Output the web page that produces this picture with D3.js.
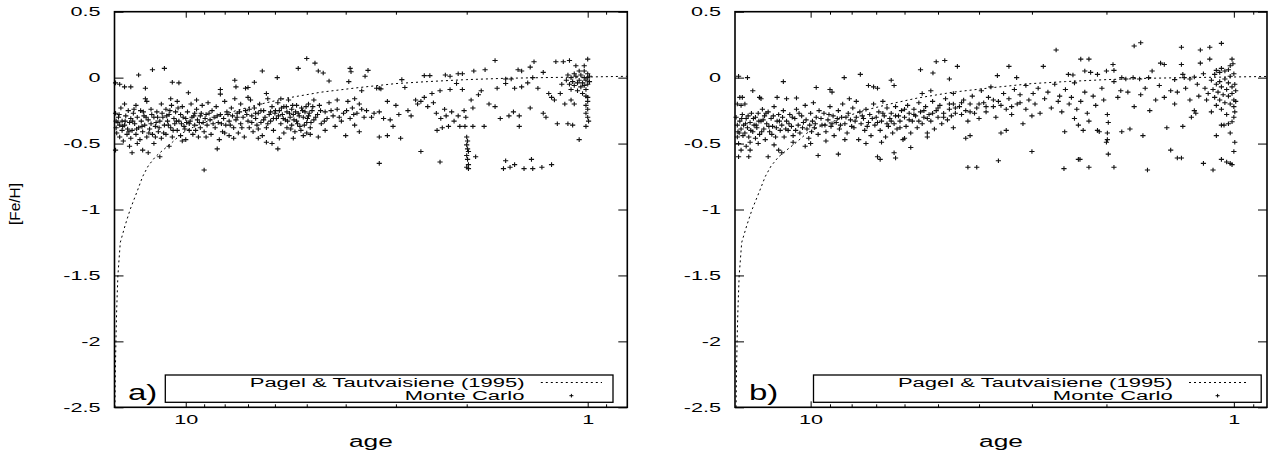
<!DOCTYPE html>
<html><head><meta charset="utf-8">
<script src="https://cdn.jsdelivr.net/npm/d3@7"></script>
<style>body{margin:0;background:#fff}svg{display:block}</style>
</head><body><svg id="c" width="1280" height="453"></svg>
<script>
const yTicks = [0.5, 0, -0.5, -1, -1.5, -2, -2.5];
const xMajor = [10, 1];
const xMinor = [9, 8, 7, 6, 5, 4, 3, 2, 0.9];
const legendLabels = ["Pagel & Tautvaisiene (1995)", "Monte Carlo"];
const panelLabels = ["a)", "b)"];
const xTitle = "age", yTitle = "[Fe/H]";

// Pagel & Tautvaisiene (1995) age-metallicity relation [age, [Fe/H]]
const pagelCurve = [[15.0,-2.5],[14.97,-2.25],[14.92,-2.0],[14.85,-1.75],[14.75,-1.5],[14.55,-1.25],[14.15,-1.12],[13.75,-1.0],[13.2,-0.86],[12.8,-0.75],[12.4,-0.67],[11.9,-0.6],[11.4,-0.55],[10.8,-0.49],[10.2,-0.42],[9.5,-0.37],[8.5,-0.31],[7.5,-0.25],[6.5,-0.2],[5.6,-0.155],[4.6,-0.11],[3.7,-0.075],[3.0,-0.045],[2.5,-0.03],[2.0,-0.015],[1.6,-0.005],[1.3,0.0],[1.0,0.005],[0.8,0.01],[0.78,0.01]];

// Monte Carlo sample, panel a) [age, [Fe/H]]
const monteCarloA = [
[14.95,-0.04],[14.6,-0.05],[14.2,-0.07],[13.7,-0.07],[14.95,-0.27],[14.9,-0.33],[14.9,-0.38],[14.85,-0.42],[14.95,-0.55],[14.7,-0.30],[14.6,-0.36],[14.6,-0.45],[14.5,-0.23],[14.4,-0.33],[14.4,-0.40],[14.2,-0.20],[14.2,-0.36],[14.1,-0.29],[14.0,-0.43],[13.95,-0.39],[13.9,-0.25],[13.8,-0.34],[13.8,-0.52],[13.7,-0.31],[13.7,-0.46],[13.6,-0.40],[13.6,-0.57],[13.5,-0.27],
[13.1,0.02],[12.6,-0.08],[12.1,0.06],[13.4,-0.35],[13.3,-0.21],[13.3,-0.43],[13.2,-0.30],[13.1,-0.38],[13.0,-0.47],[12.95,-0.25],[12.9,-0.33],[12.8,-0.55],[12.8,-0.41],[12.7,-0.29],[12.65,-0.36],[12.5,-0.18],[12.5,-0.45],[12.4,-0.32],[12.4,-0.57],[12.3,-0.39],[12.2,-0.24],[12.2,-0.35],[12.1,-0.43],[12.0,-0.30],[12.0,-0.50],
[11.3,0.07],[10.8,-0.035],[10.4,-0.04],[11.6,-0.6],[11.9,-0.37],[11.8,-0.26],[11.7,-0.41],[11.6,-0.33],[11.5,-0.20],[11.5,-0.46],[11.4,-0.30],[11.3,-0.36],[11.2,-0.24],[11.2,-0.43],[11.1,-0.33],[11.0,-0.52],[11.0,-0.28],[10.9,-0.38],[10.85,-0.21],[10.8,-0.45],[10.7,-0.31],[10.65,-0.35],[10.6,-0.26],[10.5,-0.40],[10.5,-0.18],
[9.85,-0.115],[9.0,-0.70],[10.4,-0.33],[10.3,-0.28],[10.3,-0.44],[10.2,-0.22],[10.1,-0.37],[10.0,-0.31],[10.0,-0.47],[9.9,-0.26],[9.8,-0.35],[9.8,-0.40],[9.7,-0.20],[9.65,-0.30],[9.6,-0.43],[9.5,-0.27],[9.5,-0.36],[9.4,-0.24],[9.35,-0.32],[9.3,-0.45],[9.2,-0.29],[9.2,-0.38],[9.1,-0.21],[9.05,-0.34],[9.0,-0.41],
[8.2,-0.09],[8.2,-0.125],[7.55,-0.02],[7.5,-0.07],[8.35,-0.54],[8.25,-0.47],[8.9,-0.28],[8.85,-0.36],[8.8,-0.19],[8.7,-0.32],[8.65,-0.43],[8.6,-0.25],[8.5,-0.30],[8.45,-0.38],[8.4,-0.22],[8.3,-0.34],[8.2,-0.28],[8.1,-0.41],[8.05,-0.31],[8.0,-0.18],[7.95,-0.36],[7.9,-0.26],[7.8,-0.33],[7.8,-0.44],[7.7,-0.23],[7.65,-0.29],[7.6,-0.38],[7.55,-0.16],[7.5,-0.32],
[7.1,-0.08],[7.0,-0.075],[6.75,-0.035],[6.45,0.05],[6.3,-0.12],[6.3,-0.49],[6.1,-0.5],[7.45,-0.27],[7.4,-0.42],[7.3,-0.20],[7.3,-0.35],[7.2,-0.30],[7.15,-0.45],[7.1,-0.25],[7.0,-0.33],[6.95,-0.38],[6.9,-0.17],[6.85,-0.29],[6.8,-0.41],[6.75,-0.23],[6.7,-0.31],[6.65,-0.36],[6.6,-0.27],[6.55,-0.20],[6.5,-0.34],[6.45,-0.44],[6.4,-0.25],[6.35,-0.30],[6.3,-0.38],[6.25,-0.16],[6.2,-0.28],[6.15,-0.33],[6.1,-0.22],[6.05,-0.40],[6.0,-0.27],
[5.92,0.0],[5.25,0.07],[5.0,0.145],[5.9,-0.54],[5.85,-0.46],[5.95,-0.31],[5.9,-0.19],[5.85,-0.25],[5.8,-0.35],[5.75,-0.28],[5.7,-0.42],[5.7,-0.22],[5.65,-0.32],[5.6,-0.26],[5.6,-0.38],[5.55,-0.17],[5.5,-0.30],[5.45,-0.24],[5.45,-0.36],[5.4,-0.28],[5.35,-0.41],[5.3,-0.21],[5.3,-0.33],[5.25,-0.27],[5.2,-0.37],[5.15,-0.23],[5.1,-0.30],[5.1,-0.44],[5.05,-0.26],[5.0,-0.34],[4.95,-0.20],[4.95,-0.29],[4.9,-0.43],[4.9,-0.38],[4.85,-0.25],[4.8,-0.32],[4.8,-0.17],
[4.77,0.11],[4.68,0.05],[4.55,0.035],[4.4,-0.025],[3.9,0.07],[3.88,0.045],[3.93,-0.03],[3.65,-0.10],[3.52,0.055],[3.58,0.01],[4.68,-0.45],[4.0,-0.44],[3.7,-0.41],[4.7,-0.28],[4.65,-0.21],[4.6,-0.35],[4.5,-0.26],[4.45,-0.31],[4.4,-0.19],[4.3,-0.29],[4.25,-0.37],[4.2,-0.24],[4.1,-0.33],[4.05,-0.27],[3.95,-0.18],[3.9,-0.31],[3.85,-0.23],[3.8,-0.36],[3.75,-0.27],[3.7,-0.20],[3.6,-0.30],[3.55,-0.25],
[3.35,-0.08],[3.3,-0.08],[3.27,-0.085],[2.9,-0.015],[2.85,-0.075],[3.3,-0.65],[2.6,-0.56],[3.3,-0.45],[3.15,-0.44],[2.92,-0.46],[3.4,-0.27],[3.3,-0.26],[3.22,-0.31],[3.15,-0.18],[3.1,-0.32],[3.05,-0.37],[3.0,-0.21],[2.95,-0.28],[2.8,-0.25],[2.75,-0.29],[2.68,-0.17],[2.65,-0.20],
[2.55,0.015],[2.47,0.015],[2.26,0.02],[2.2,0.01],[2.1,0.03],[2.05,0.03],[1.92,0.05],[2.33,-0.64],[2.6,-0.18],[2.55,-0.15],[2.5,-0.22],[2.44,-0.12],[2.42,-0.19],[2.38,-0.27],[2.37,-0.40],[2.33,-0.10],[2.32,-0.31],[2.3,-0.38],[2.27,-0.24],[2.25,-0.29],[2.22,-0.37],[2.2,-0.09],[2.18,-0.26],[2.15,-0.33],[2.12,-0.045],[2.1,-0.29],[2.08,-0.37],[2.05,-0.09],[2.03,-0.25],[2.02,-0.37],[2.01,-0.30],
[2.0,-0.45],[1.99,-0.48],[2.0,-0.51],[1.99,-0.54],[1.98,-0.56],[2.0,-0.59],[1.99,-0.62],[1.98,-0.66],[2.0,-0.68],[1.98,-0.69],[1.9,-0.60],[1.93,-0.37],[1.93,-0.23],[1.95,-0.17],
[1.8,0.06],[1.49,0.06],[1.46,0.05],[1.39,0.08],[1.29,0.04],[1.36,0.12],[1.7,0.13],[1.87,-0.13],[1.84,-0.10],[1.81,-0.37],[1.76,-0.20],[1.7,-0.22],[1.68,-0.08],[1.65,-0.31],[1.6,-0.045],[1.6,-0.01],[1.57,-0.29],[1.55,-0.01],[1.53,-0.26],[1.52,-0.08],[1.48,-0.29],[1.48,-0.37],[1.46,-0.07],[1.41,-0.04],[1.39,-0.23],[1.37,0.0],[1.33,-0.08],[1.29,-0.27],[1.27,-0.30],[1.25,-0.12],[1.23,-0.15],[1.21,-0.17],[1.19,-0.35],[1.17,-0.12],[1.16,-0.05],
[1.62,-0.69],[1.6,-0.63],[1.56,-0.68],[1.52,-0.66],[1.44,-0.69],[1.38,-0.62],[1.37,-0.69],[1.3,-0.68],[1.23,-0.66],
[1.2,0.12],[1.15,0.12],[1.11,0.13],[1.0,0.14],[1.07,0.09],[1.02,0.09],[1.14,-0.20],[1.13,-0.02],[1.12,0.02],[1.11,-0.05],[1.1,0.0],[1.1,-0.09],[1.09,-0.03],[1.08,0.03],[1.08,-0.06],[1.07,0.01],[1.06,-0.04],[1.06,-0.10],[1.05,0.05],[1.05,-0.02],[1.05,-0.47],[1.04,-0.07],[1.04,0.02],[1.03,-0.04],[1.03,-0.12],[1.02,0.0],[1.02,-0.06],[1.02,0.05],[1.01,-0.02],[1.01,-0.09],[1.0,0.0],[1.0,-0.05],[1.0,0.03],[0.99,-0.03],[0.99,0.01],[1.08,-0.20],[1.1,-0.17],[1.12,-0.35],[1.09,-0.36],
[1.01,-0.14],[1.0,-0.18],[1.01,-0.21],[1.0,-0.24],[1.01,-0.27],[1.0,-0.30],[0.995,-0.33],[1.01,-0.37],[1.0,-0.15],
[14.75,-0.34],[14.65,-0.28],[14.35,-0.37],[14.15,-0.33],[13.85,-0.41],[13.55,-0.33],[13.45,-0.24],[13.25,-0.39],[12.85,-0.37],[12.75,-0.26],[12.55,-0.30],[12.35,-0.42],[12.15,-0.28],[11.85,-0.34],[11.75,-0.30],[11.65,-0.38],[11.45,-0.27],[11.35,-0.42],[11.15,-0.29],[11.05,-0.36],[10.95,-0.25],[10.75,-0.40],[10.55,-0.33],[10.45,-0.23],[10.25,-0.35],[10.15,-0.30],[10.05,-0.39],[9.95,-0.34],[9.75,-0.33],[9.55,-0.29],[9.45,-0.40],[9.25,-0.34],[9.15,-0.27],[8.95,-0.31],[8.75,-0.27],[8.55,-0.35],[8.35,-0.29],[8.15,-0.35],[7.85,-0.28],[7.75,-0.36],[7.45,-0.30],[7.35,-0.26],[7.25,-0.38],[7.05,-0.28],[6.95,-0.24],[6.85,-0.34],[6.7,-0.27],[6.6,-0.39],[6.5,-0.25],[6.4,-0.32],[6.25,-0.35],[6.15,-0.26],[6.05,-0.31],[5.98,-0.25],[5.88,-0.29],[5.78,-0.23],[5.72,-0.31],[5.62,-0.22],[5.58,-0.33],[5.52,-0.27],[5.48,-0.39],[5.42,-0.21],[5.38,-0.32],[5.33,-0.26],[5.27,-0.35],[5.22,-0.29],[5.17,-0.40],[5.12,-0.25],[5.07,-0.36],[5.02,-0.22],[4.98,-0.31],[4.93,-0.27],[4.88,-0.34],[4.83,-0.22],[4.75,-0.30],[4.62,-0.25],[4.52,-0.33],[4.35,-0.25],[4.15,-0.30],[3.98,-0.25],[3.82,-0.28],[3.65,-0.24],[3.45,-0.30],
[14.3,-0.48],[13.2,-0.50],[12.6,-0.16],[11.9,-0.45],[10.9,-0.16],[10.2,-0.48],[9.4,-0.17],[8.9,-0.45],[8.0,-0.42],[7.6,-0.46],[7.0,-0.15],[6.6,-0.46],[5.8,-0.16],[5.4,-0.46],[5.0,-0.42],[4.5,-0.40],[4.2,-0.17],[3.8,-0.16]
];

// Monte Carlo sample, panel b) [age, [Fe/H]]
const monteCarloB = [
[14.8,0.01],[14.1,0.0],[14.7,-0.15],[14.5,-0.15],[14.9,-0.20],[14.6,-0.21],[14.3,-0.20],[13.7,-0.10],[15.0,-0.30],[14.9,-0.36],[14.85,-0.41],[14.9,-0.45],[14.8,-0.50],[14.6,-0.55],[14.8,-0.60],[14.0,-0.60],[13.9,-0.55],[13.9,-0.49],[14.7,-0.33],[14.6,-0.39],[14.5,-0.28],[14.4,-0.36],[14.3,-0.42],[14.2,-0.31],[14.1,-0.38],[14.0,-0.45],[13.9,-0.34],[13.8,-0.27],[13.7,-0.41],[13.6,-0.36],[13.5,-0.30],[13.5,-0.46],
[13.2,-0.15],[13.1,-0.16],[12.0,-0.15],[11.6,-0.03],[12.6,-0.60],[11.9,-0.55],[11.7,-0.57],[13.4,-0.38],[13.3,-0.27],[13.2,-0.43],[13.1,-0.33],[13.0,-0.24],[12.9,-0.39],[12.85,-0.29],[12.8,-0.47],[12.7,-0.35],[12.6,-0.26],[12.5,-0.41],[12.4,-0.31],[12.3,-0.37],[12.2,-0.22],[12.1,-0.45],[12.0,-0.33],[11.9,-0.28],[11.8,-0.40],[11.7,-0.36],[11.6,-0.25],[11.55,-0.45],
[11.4,-0.16],[10.8,-0.155],[9.7,-0.075],[9.6,-0.59],[10.3,-0.52],[11.4,-0.33],[11.3,-0.40],[11.2,-0.28],[11.1,-0.37],[11.0,-0.44],[10.9,-0.31],[10.8,-0.24],[10.7,-0.36],[10.6,-0.42],[10.5,-0.29],[10.4,-0.34],[10.3,-0.21],[10.2,-0.39],[10.1,-0.46],[10.0,-0.27],[9.9,-0.33],[9.85,-0.19],[9.8,-0.38],[9.7,-0.30],[9.6,-0.43],[9.55,-0.25],
[9.0,-0.09],[8.9,-0.11],[8.33,0.0],[8.6,-0.58],[7.8,-0.18],[8.1,-0.16],[9.4,-0.36],[9.3,-0.27],[9.2,-0.41],[9.1,-0.32],[9.0,-0.22],[8.95,-0.37],[8.85,-0.29],[8.8,-0.44],[8.7,-0.34],[8.6,-0.25],[8.55,-0.39],[8.45,-0.30],[8.4,-0.20],[8.3,-0.35],[8.2,-0.42],[8.15,-0.27],[8.05,-0.32],[7.95,-0.23],[7.9,-0.38],[7.8,-0.30],[7.7,-0.47],[7.65,-0.26],[7.6,-0.35],
[7.63,0.025],[7.3,-0.06],[7.1,-0.07],[6.95,-0.08],[6.45,-0.02],[6.35,-0.06],[6.95,-0.60],[6.85,-0.62],[6.35,-0.57],[6.3,-0.61],[7.5,-0.31],[7.45,-0.40],[7.4,-0.24],[7.3,-0.34],[7.25,-0.28],[7.2,-0.44],[7.1,-0.20],[7.05,-0.36],[7.0,-0.30],[6.9,-0.26],[6.85,-0.40],[6.8,-0.33],[6.75,-0.18],[6.7,-0.29],[6.65,-0.45],[6.6,-0.23],[6.55,-0.37],[6.5,-0.31],[6.45,-0.27],[6.4,-0.42],[6.35,-0.35],[6.3,-0.22],[6.25,-0.39],[6.2,-0.29],[6.15,-0.33],[6.1,-0.25],[6.05,-0.47],
[5.5,0.06],[5.14,0.035],[5.05,0.12],[4.82,0.13],[4.7,-0.01],[5.8,-0.53],[5.45,-0.12],[5.2,-0.10],[4.6,-0.12],[6.0,-0.30],[5.95,-0.37],[5.9,-0.21],[5.85,-0.27],[5.8,-0.42],[5.75,-0.33],[5.7,-0.24],[5.65,-0.29],[5.6,-0.38],[5.55,-0.19],[5.5,-0.26],[5.45,-0.35],[5.4,-0.30],[5.35,-0.22],[5.3,-0.45],[5.25,-0.28],[5.2,-0.33],[5.15,-0.18],[5.1,-0.39],[5.05,-0.25],[5.0,-0.30],[4.95,-0.21],[4.9,-0.35],[4.85,-0.27],[4.8,-0.16],[4.75,-0.32],[4.7,-0.24],[4.65,-0.29],[4.6,-0.20],[4.55,-0.27],
[4.5,0.085],[3.62,0.015],[3.4,0.085],[3.26,0.0],[4.25,-0.68],[4.05,-0.68],[3.6,-0.63],[3.0,-0.56],[4.3,-0.46],[4.2,-0.44],[3.55,-0.42],[3.45,-0.40],[4.45,-0.22],[4.4,-0.28],[4.35,-0.17],[4.3,-0.25],[4.25,-0.33],[4.2,-0.20],[4.15,-0.14],[4.1,-0.27],[4.05,-0.23],[4.0,-0.31],[3.95,-0.10],[3.9,-0.19],[3.85,-0.26],[3.8,-0.15],[3.75,-0.07],[3.7,-0.22],[3.65,-0.30],[3.6,-0.18],[3.5,-0.12],[3.45,-0.24],[3.4,-0.16],[3.35,-0.28],[3.3,-0.09],[3.25,-0.20],[3.2,-0.13],[3.15,-0.35],[3.1,-0.06],[3.1,-0.24],[3.05,-0.17],[3.0,-0.29],
[2.82,0.085],[2.63,0.21],[2.46,0.025],[2.4,0.02],[2.3,0.14],[2.2,0.14],[2.25,0.05],[2.18,0.04],[2.1,0.025],[2.0,0.05],[2.52,-0.69],[2.33,-0.62],[2.31,-0.62],[2.2,-0.68],[2.51,-0.41],[2.27,-0.40],[2.38,-0.31],[2.33,-0.36],[2.1,-0.40],[2.08,-0.41],[2.2,-0.33],[2.0,-0.49],[1.99,-0.47],[1.99,-0.42],[1.98,-0.34],[1.99,-0.28],
[2.98,-0.12],[2.95,-0.20],[2.9,-0.08],[2.87,-0.27],[2.8,-0.16],[2.75,-0.11],[2.7,-0.23],[2.65,-0.05],[2.6,-0.18],[2.58,-0.14],[2.55,-0.26],[2.5,-0.09],[2.45,-0.20],[2.42,-0.15],[2.38,-0.04],[2.35,-0.24],[2.3,-0.18],[2.25,-0.11],[2.22,-0.27],[2.15,-0.14],[2.12,-0.21],[2.05,-0.08],[2.03,-0.17],
[1.93,0.10],[1.92,0.055],[1.92,-0.03],[1.84,0.0],[1.8,-0.01],[1.73,0.0],[1.67,-0.01],[1.72,0.24],[1.66,0.265],[1.56,0.05],[1.49,0.11],[1.46,0.10],[1.38,-0.015],[1.33,0.23],[1.33,0.10],[1.32,0.025],[1.31,0.0],[1.27,-0.01],[1.24,0.005],[1.2,0.11],[1.2,0.21],[1.59,0.0],
[1.92,-0.68],[1.98,-0.58],[1.6,-0.70],[1.41,-0.55],[1.36,-0.61],[1.33,-0.61],[1.64,-0.44],[1.84,-0.41],[1.76,-0.39],[1.44,-0.38],[1.32,-0.37],
[1.88,-0.15],[1.85,-0.10],[1.78,-0.11],[1.72,-0.22],[1.66,-0.13],[1.62,-0.08],[1.58,-0.25],[1.53,-0.17],[1.5,-0.06],[1.46,-0.15],[1.41,-0.10],[1.38,-0.20],[1.36,-0.11],[1.3,-0.08],[1.27,-0.17],[1.24,-0.25],[1.23,-0.27],[1.26,-0.30],[1.22,-0.05],[1.21,-0.14],
[1.14,0.23],[1.07,0.26],[1.18,0.03],[1.14,0.14],[1.11,0.025],[1.1,0.055],[1.08,0.04],[1.07,0.07],[1.05,0.05],[1.03,0.06],[1.02,0.09],[1.01,0.14],[1.005,0.105],
[1.18,-0.65],[1.12,-0.70],[1.07,-0.62],[1.04,-0.64],[1.02,-0.65],[1.01,-0.66],[1.0,-0.56],[0.995,-0.49],[1.02,-0.42],[1.07,-0.36],[1.055,-0.36],[1.03,-0.35],[1.01,-0.335],[1.1,-0.44],
[1.17,-0.08],[1.16,-0.17],[1.15,-0.12],[1.13,-0.02],[1.13,-0.26],[1.12,-0.09],[1.11,-0.15],[1.1,-0.05],[1.1,-0.21],[1.09,-0.11],[1.08,-0.03],[1.08,-0.17],[1.07,-0.07],[1.07,-0.24],[1.06,-0.13],[1.05,-0.01],[1.05,-0.19],[1.04,-0.09],[1.04,-0.28],[1.03,-0.04],[1.03,-0.14],[1.02,-0.20],[1.02,0.01],[1.01,-0.07],[1.01,-0.12],[1.0,0.03],[1.0,-0.17],[1.0,-0.22],[0.995,-0.05],[0.995,-0.26],[0.99,-0.10],[0.99,-0.18],[1.0,-0.30],
[14.75,-0.42],[14.55,-0.31],[14.45,-0.44],[14.25,-0.35],[14.05,-0.29],[13.85,-0.40],[13.65,-0.31],[13.45,-0.36],[13.25,-0.33],[13.05,-0.41],[12.95,-0.32],[12.75,-0.27],[12.55,-0.37],[12.35,-0.43],[12.25,-0.29],[12.05,-0.38],[11.85,-0.33],[11.65,-0.30],[11.45,-0.39],[11.25,-0.35],[11.05,-0.30],[10.85,-0.40],[10.65,-0.27],[10.45,-0.38],[10.25,-0.32],[10.05,-0.36],[9.95,-0.41],[9.75,-0.35],[9.45,-0.31],[9.25,-0.36],[9.05,-0.28],[8.9,-0.35],[8.65,-0.31],[8.5,-0.36],[8.25,-0.30],[8.0,-0.37],[7.85,-0.33],[7.55,-0.29],[7.35,-0.37],[7.15,-0.31],[6.95,-0.34],[6.75,-0.27],[6.6,-0.35],[6.45,-0.33],[6.3,-0.29],[6.15,-0.38],[6.0,-0.24],[5.85,-0.32],[5.7,-0.28],[5.55,-0.33],[5.4,-0.25],[5.3,-0.31],[5.15,-0.27],[5.0,-0.23],[4.85,-0.30],[4.7,-0.20],[4.55,-0.23],[4.4,-0.19],[4.2,-0.26],[4.0,-0.20],[3.85,-0.22],[3.7,-0.17],[3.55,-0.21],[3.35,-0.22],[3.2,-0.19],
[14.2,-0.52],[13.3,-0.50],[12.2,-0.51],[11.0,-0.49],[10.0,-0.50],[9.2,-0.48],[8.3,-0.47],[7.4,-0.50],[6.8,-0.49],[6.0,-0.46],[5.3,-0.42],[4.6,-0.38]
];

// ---------- layout ----------
const FONT = "'Liberation Sans', Arial, Helvetica, sans-serif";
const yTop = 11.7, yBot = 407.3;
const panels = [
  {left:114.5, right:627.3, xDomain:[15.04, 0.797], points:monteCarloA, tag:panelLabels[0], tagX:128,
   legX0:165.3, legX1:613, legTextR:524.5, legS0:540.8, legS1:602, legPlus:571.4},
  {left:735, right:1267, xDomain:[15.09, 0.835], points:monteCarloB, tag:panelLabels[1], tagX:749,
   legX0:813.5, legX1:1261.2, legTextR:1172.7, legS0:1189, legS1:1248, legPlus:1217.6}
];
const svg = d3.select("#c");
svg.append("rect").attr("width",1280).attr("height",453).attr("fill","#fff");
const plusPath = "M-2.6,0H2.6M0,-2.3V2.3";

panels.forEach((p, i) => {
  const x = d3.scaleLog().domain(p.xDomain).range([p.left, p.right]);
  const y = d3.scaleLinear().domain([-2.5, 0.5]).range([yBot, yTop]);
  const g = svg.append("g");
  const minorVals = xMinor.filter(v => v < p.xDomain[0] && v > p.xDomain[1]);

  svg.append("clipPath").attr("id", "clip" + i).append("rect")
    .attr("x", p.left).attr("y", yTop).attr("width", p.right - p.left).attr("height", yBot - yTop);

  const styleAxis = sel => { sel.attr("color", "#000").attr("font-family", FONT); sel.select(".domain").remove(); sel.selectAll("line").attr("stroke-width", 1); };
  const gl = g.append("g").attr("transform", `translate(${p.left},0)`)
    .call(d3.axisLeft(y).tickValues(yTicks).tickSize(-9).tickPadding(0).tickFormat(d => String(d)))
    .call(styleAxis).attr("font-size", 12);
  gl.selectAll("text").attr("x", 0).attr("dy", "0.32em").attr("text-anchor", "end")
    .attr("transform", "translate(-14,0) scale(1.8,1)");
  g.append("g").attr("transform", `translate(${p.right},0)`)
    .call(d3.axisRight(y).tickValues(yTicks).tickSize(-9).tickFormat(""))
    .call(styleAxis);
  const gb = g.append("g").attr("transform", `translate(0,${yBot})`)
    .call(d3.axisBottom(x).tickValues(xMajor).tickSize(-6).tickFormat(d => String(d)))
    .call(styleAxis).attr("font-size", 12);
  gb.selectAll("text").attr("y", 16.7).attr("dy", 0).attr("transform", "scale(1.8,1)");
  g.append("g").attr("transform", `translate(0,${yBot})`)
    .call(d3.axisBottom(x).tickValues(minorVals).tickSize(-3).tickFormat(""))
    .call(styleAxis);
  g.append("g").attr("transform", `translate(0,${yTop})`)
    .call(d3.axisTop(x).tickValues(xMajor).tickSize(-6).tickFormat(""))
    .call(styleAxis);
  g.append("g").attr("transform", `translate(0,${yTop})`)
    .call(d3.axisTop(x).tickValues(minorVals).tickSize(-3).tickFormat(""))
    .call(styleAxis);

  // model curve
  g.append("path").datum(pagelCurve).attr("clip-path", `url(#clip${i})`)
    .attr("d", d3.line().x(d => x(d[0])).y(d => y(d[1])))
    .attr("fill", "none").attr("stroke", "#000").attr("stroke-width", 1).attr("stroke-dasharray", "2,3");

  // Monte Carlo points
  g.append("g").selectAll("path").data(p.points).join("path")
    .attr("transform", d => `translate(${x(d[0])},${y(d[1])})`)
    .attr("d", plusPath).attr("fill", "none").attr("stroke", "#111").attr("stroke-width", 1.1);

  // legend
  g.append("rect").attr("x", p.legX0).attr("y", 375).attr("width", p.legX1 - p.legX0).attr("height", 27.3)
    .attr("fill", "#fff").attr("stroke", "#000").attr("stroke-width", 1.3);
  legendLabels.forEach((t, k) => {
    g.append("text").text(t).attr("text-anchor", "end").attr("font-family", FONT).attr("font-size", 13.5)
      .attr("transform", `translate(${p.legTextR},${k === 0 ? 387 : 400.3}) scale(1.63,1)`);
  });
  g.append("line").attr("x1", p.legS0).attr("x2", p.legS1).attr("y1", 382.5).attr("y2", 382.5)
    .attr("stroke", "#000").attr("stroke-width", 1).attr("stroke-dasharray", "2,3");
  g.append("path").attr("transform", `translate(${p.legPlus},395.7)`).attr("d", "M-2,0H2M0,-1.8V1.8")
    .attr("stroke", "#000").attr("stroke-width", 1);

  // panel tag
  g.append("text").text(p.tag).attr("font-family", FONT).attr("font-size", 22)
    .attr("transform", `translate(${p.tagX},400) scale(1.5,1)`);

  // frame
  g.append("rect").attr("x", p.left).attr("y", yTop).attr("width", p.right - p.left).attr("height", yBot - yTop)
    .attr("fill", "none").attr("stroke", "#000").attr("stroke-width", 1.6);

  // x title
  g.append("text").text(xTitle).attr("text-anchor", "middle").attr("font-family", FONT).attr("font-size", 17)
    .attr("transform", `translate(${(p.left + p.right) / 2},446.7) scale(1.55,1)`);
});

svg.append("text").text(yTitle).attr("text-anchor", "middle").attr("font-family", FONT).attr("font-size", 14)
  .attr("transform", "translate(19.5,204) rotate(-90) scale(1.1,1)");
</script></body></html>
